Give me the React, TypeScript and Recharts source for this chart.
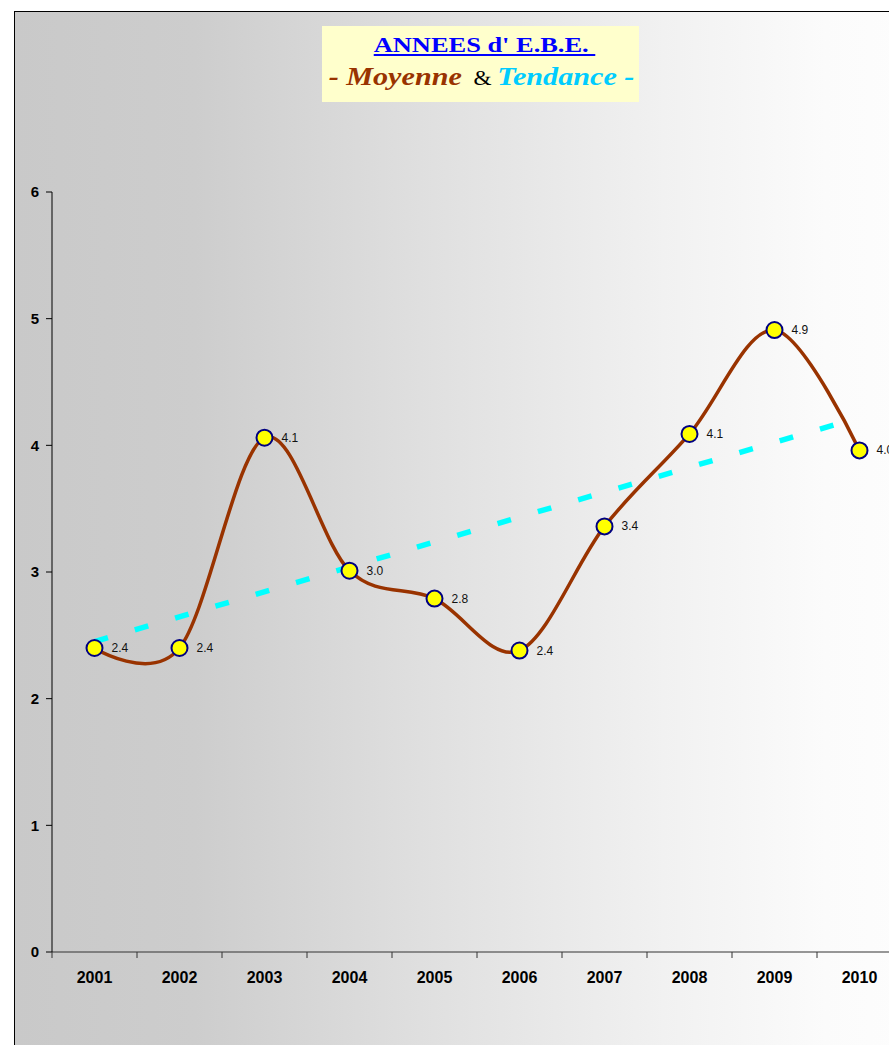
import React from 'react';
import { LineChart, Line, XAxis, YAxis, LabelList } from 'recharts';

// values
const years = ['2001', '2002', '2003', '2004', '2005', '2006', '2007', '2008', '2009', '2010'];
const moyenne = [2.4, 2.4, 4.06, 3.01, 2.79, 2.38, 3.36, 4.09, 4.91, 3.96];
// trend line (linear), only the two ends are needed
const tendance = [2.45, null, null, null, null, null, null, null, null, 4.22];
const yTicks = [0, 1, 2, 3, 4, 5, 6];

const data = years.map((year, i) => ({ year, moyenne: moyenne[i], tendance: tendance[i] }));

const CHART_W = 920;
const CHART_H = 1045;
const MARGIN = { top: 192, right: 18, bottom: 63, left: 12 };
const Y_W = 40;
const BAND = (CHART_W - MARGIN.left - MARGIN.right - Y_W) / years.length;

const AXIS_FONT = 'Arial, "Liberation Sans", sans-serif';

// Excel-like smoothed line (Catmull-Rom)
const excelSmooth = (context: any) => {
  const k = 1 / 6;
  let x0: number, x1: number, x2: number, y0: number, y1: number, y2: number;
  let pt = 0;
  let line: number = NaN;
  const bez = (x: number, y: number) => {
    context.bezierCurveTo(
      x1 + k * (x2 - x0), y1 + k * (y2 - y0),
      x2 + k * (x1 - x), y2 + k * (y1 - y),
      x2, y2
    );
  };
  return {
    areaStart() { line = 0; },
    areaEnd() { line = NaN; },
    lineStart() { x0 = x1 = x2 = y0 = y1 = y2 = NaN; pt = 0; },
    lineEnd() {
      if (pt === 2) context.lineTo(x2, y2);
      else if (pt === 3) bez(x1, y1);
      if (line || (line !== 0 && pt === 1)) context.closePath();
      line = 1 - line;
    },
    point(x: number, y: number) {
      x = +x; y = +y;
      if (pt === 0) { pt = 1; line ? context.lineTo(x, y) : context.moveTo(x, y); }
      else if (pt === 1) { pt = 2; x1 = x; y1 = y; }
      else { pt = 3; bez(x, y); }
      x0 = x1; x1 = x2; x2 = x;
      y0 = y1; y1 = y2; y2 = y;
    },
  };
};

// category ticks sit between the years, like Excel
const XTick = (props: any) => {
  const { x, y, payload } = props;
  const bx = x - BAND / 2;
  return (
    <g>
      <line x1={bx} y1={y} x2={bx} y2={y + 6} stroke="#333" />
      <text x={x} y={y + 20} dy="0.71em" textAnchor="middle"
        style={{ fontFamily: AXIS_FONT, fontSize: 16, fontWeight: 'bold', fill: '#000' }}>
        {payload.value}
      </text>
    </g>
  );
};

const YTick = (props: any) => {
  const { x, y, payload } = props;
  return (
    <text x={x} y={y} dy="0.36em" textAnchor="end"
      style={{ fontFamily: AXIS_FONT, fontSize: 15, fontWeight: 'bold', fill: '#000' }}>
      {payload.value}
    </text>
  );
};

const renderLabel = (props: any) => {
  const { x, y, value } = props;
  if (value == null) return null;
  return (
    <text x={x + 17} y={y + 4} textAnchor="start"
      style={{ fontFamily: AXIS_FONT, fontSize: 12, fill: '#111' }}>
      {Number(value).toFixed(1)}
    </text>
  );
};

export default function App() {
  return (
    <div style={{ position: 'fixed', left: 0, top: 0, width: 889, height: 1045, overflow: 'hidden', background: '#fff' }}>
      {/* chart area frame */}
      <div style={{
        position: 'absolute', left: 14, top: 11, width: 900, height: 1060,
        borderLeft: '1px solid #000', borderTop: '1px solid #000',
        background: 'linear-gradient(to right, #c9c9c9 0%, #cdcdcd 20%, #dfdfdf 45%, #f1f1f1 72%, #fbfbfb 90%, #fdfdfd 100%)',
      }} />

      {/* title */}
      <div style={{ position: 'absolute', left: 322, top: 26, width: 317, height: 76, background: '#FFFFCC', fontFamily: '"Times New Roman", "Liberation Serif", serif' }}>
        <div style={{ position: 'absolute', left: 4, top: 8, width: '100%', textAlign: 'center', fontSize: 22, lineHeight: '22px', fontWeight: 'bold', color: '#0000FF', textDecoration: 'underline', transform: 'scaleX(1.2)', transformOrigin: '50% 50%', whiteSpace: 'nowrap' }}>
          ANNEES d' E.B.E.&nbsp;
        </div>
        <div style={{ position: 'absolute', left: 0, top: 38, width: '100%', textAlign: 'center', fontSize: 26, lineHeight: '26px', whiteSpace: 'nowrap', transform: 'scaleX(1.16)', transformOrigin: '48% 50%' }}>
          <span style={{ color: '#993300', fontWeight: 'bold', fontStyle: 'italic' }}>- Moyenne</span>
          <span style={{ color: '#000', fontSize: 20 }}>&nbsp; &amp; </span>
          <span style={{ color: '#00CCFF', fontWeight: 'bold', fontStyle: 'italic' }}>Tendance -</span>
        </div>
      </div>

      <div style={{ position: 'absolute', left: 0, top: 0 }}>
        <LineChart width={CHART_W} height={CHART_H} data={data} margin={MARGIN}>
          <XAxis
            dataKey="year"
            interval={0}
            height={30}
            padding={{ left: BAND / 2, right: BAND / 2 }}
            tickSize={0}
            tickMargin={0}
            tickLine={false}
            axisLine={{ stroke: '#333' }}
            tick={<XTick />}
          />
          <YAxis
            domain={[0, 6]}
            ticks={yTicks}
            width={Y_W}
            tickSize={6}
            tickMargin={7}
            axisLine={{ stroke: '#000' }}
            tickLine={{ stroke: '#000' }}
            tick={<YTick />}
          />
          <Line
            dataKey="moyenne"
            type={excelSmooth as any}
            stroke="#993300"
            strokeWidth={3.5}
            dot={{ r: 8, fill: '#FFFF00', stroke: '#000080', strokeWidth: 2 }}
            activeDot={false}
            isAnimationActive={false}
          >
            <LabelList dataKey="moyenne" content={renderLabel} />
          </Line>
          <Line
            dataKey="tendance"
            type="linear"
            connectNulls
            stroke="#00FFFF"
            strokeWidth={5.5}
            strokeDasharray="14 28"
            dot={false}
            activeDot={false}
            isAnimationActive={false}
          />
        </LineChart>
      </div>
    </div>
  );
}
